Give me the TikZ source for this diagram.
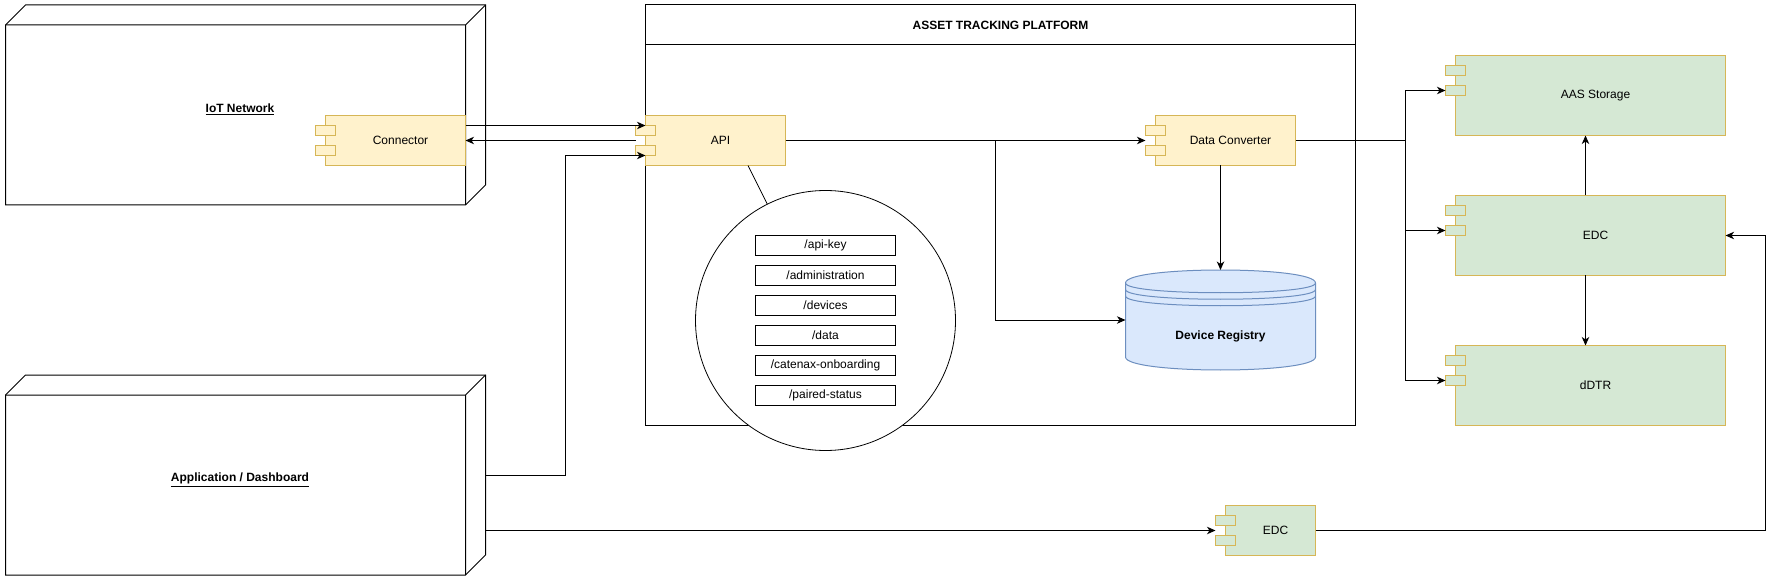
\documentclass[tikz,border=0pt]{standalone}
\usepackage{fontspec}
\setmainfont{Liberation Sans}
\usetikzlibrary{arrows.meta,calc}
\definecolor{yfill}{HTML}{FFF2CC}
\definecolor{ystroke}{HTML}{D6B656}
\definecolor{gfill}{HTML}{D5E8D4}
\definecolor{bfill}{HTML}{DAE8FC}
\definecolor{bstroke}{HTML}{6C8EBF}
\newcommand\compbox[7]{%
  \node[cbody, fill=#6, minimum width={#4*0.75pt}, minimum height={#5*0.75pt}, anchor=north west] (#1) at (#2,#3) {};
  \draw[cport, fill=#6] ($(#1.north west)+(-10,10)$) rectangle ++(20,10);
  \draw[cport, fill=#6] ($(#1.north west)+(-10,30)$) rectangle ++(20,10);
  \node[txt] (#1-lbl) at ($(#1.center)+(5,0)$) {#7};}
\newcommand\nodebox[5]{%
  \node[inner sep=0pt, outer sep=0pt, minimum width={#4*0.75pt}, minimum height={#5*0.75pt}, anchor=north west] (#1) at (#2,#3) {};
  \begin{scope}[shift={(#1.north west)}]
    \filldraw[plain, fill=white, draw=black] (0,20) -- (20,0) -- (#4,0) -- (#4,#5-20) -- (#4-20,#5) -- (0,#5) -- cycle;
    \draw[plain] (0,20) -- (#4-20,20) -- (#4,0) (#4-20,20) -- (#4-20,#5);
  \end{scope}}
\begin{document}
\begin{tikzpicture}[x=0.75pt, y=-0.75pt,
  txt/.style={inner sep=0pt, font=\fontsize{9}{11}\selectfont},
  btxt/.style={inner sep=0pt, font=\fontsize{9}{11}\selectfont\bfseries},
  plain/.style={line width=0.75pt},
  cbody/.style={rectangle, draw=ystroke, line width=0.75pt, inner sep=0pt, outer sep=0pt},
  cport/.style={draw=ystroke, line width=0.75pt},
  arr/.style={line width=0.75pt, -{Stealth[length=6.4pt, width=5.6pt, inset=1.9pt]}},
  epbox/.style={rectangle, draw, line width=0.75pt, fill=white, inner sep=0pt, outer sep=0pt,
    minimum width=105pt, minimum height=15pt, font=\fontsize{9}{11}\selectfont}]
\fill[white] (0,0) rectangle (1779,581);
\useasboundingbox (0,0) rectangle (1779,581);

% 3D nodes
\nodebox{iot}{5.5}{5}{480}{200}
\node[btxt] (iotlbl) at (240,109.5) {\underline{IoT Network}};
\nodebox{app}{5.5}{375}{480}{200}
\node[btxt] (applbl) at (240,480) {\underline{Application / Dashboard}};

% platform
\node[rectangle, draw, line width=0.75pt, inner sep=0pt, outer sep=0pt, minimum width=532.5pt, minimum height=315pt, anchor=north west] (plat) at (645.5,5) {};
\draw[plain] ($(plat.north west)+(0,40)$) -- ($(plat.north east)+(0,40)$);
\node[btxt] (title) at ($(plat.north)+(0,20)$) {ASSET TRACKING PLATFORM};

% components
\compbox{conn}{325.5}{115.5}{140}{50}{yfill}{Connector}
\compbox{api}{645.5}{115.5}{140}{50}{yfill}{API}
\compbox{dc}{1155.5}{115.5}{140}{50}{yfill}{Data Converter}
\compbox{aas}{1455.5}{55.5}{270}{80}{gfill}{AAS Storage}
\compbox{edc}{1455.5}{195.5}{270}{80}{gfill}{EDC}
\compbox{dtr}{1455.5}{345.5}{270}{80}{gfill}{dDTR}
\compbox{edcb}{1225.5}{505.5}{90}{50}{gfill}{EDC}

% device registry (datastore)
\node[inner sep=0pt, outer sep=0pt, minimum width=142.5pt, minimum height=75pt, anchor=north west] (reg) at (1125.5,270) {};
\begin{scope}[shift={(reg.north west)}, draw=bstroke, line width=0.75pt]
  \filldraw[fill=bfill, draw=bstroke] (0,13) .. controls (0,-4.333) and (190,-4.333) .. (190,13) -- (190,87) .. controls (190,104.333) and (0,104.333) .. (0,87) -- cycle;
  \draw[bstroke] (0,13) .. controls (0,26) and (190,26) .. (190,13);
  \draw[bstroke] (0,19.5) .. controls (0,32.5) and (190,32.5) .. (190,19.5);
  \draw[bstroke] (0,26) .. controls (0,39) and (190,39) .. (190,26);
\end{scope}
\node[btxt] (reglbl) at (1220.5,336.5) {Device Registry};

% API endpoints circle
\node[circle, draw, line width=0.6pt, fill=white, minimum size=195pt, inner sep=0pt, outer sep=0pt] (circ) at (825.5,320.5) {};
\draw[line width=0.6pt] ($(api.south west)+(102.5,0)$) -- (circ);
\node[epbox] (ep1) at (825.5,245.5) {/api-key};
\node[epbox] (ep2) at (825.5,275.5) {/administration};
\node[epbox] (ep3) at (825.5,305.5) {/devices};
\node[epbox] (ep4) at (825.5,335.5) {/data};
\node[epbox] (ep5) at (825.5,365.5) {/catenax-onboarding};
\node[epbox] (ep6) at (825.5,395.5) {/paired-status};

% connectors
\draw[arr] ($(conn.north east)+(0,10)$) -- ($(api.north west)+(0,10)$);
\draw[arr] ($(api.west)+(-10,0)$) -- (conn.east);
\draw[arr] (app.east) -- ++(80,0) |- ($(api.north west)+(0,40)$);
\draw[arr] (api.east) -- ($(dc.west)+(-10,0)$);
\coordinate (j1) at (995.5,140.5);
\draw[arr] (j1) |- (reg.west);
\draw[arr] (dc.south -| reg.north) -- (reg.north);
\coordinate (j2) at (1405.5,140.5);
\draw[plain] (dc.east) -- (j2);
\draw[arr] (j2) |- ($(aas.north west)+(-10,35)$);
\draw[arr] (j2) |- ($(edc.north west)+(-10,35)$);
\draw[arr] (j2) |- ($(dtr.north west)+(-10,35)$);
\draw[arr] ($(edc.north)+(-5,0)$) -- ($(aas.south)+(-5,0)$);
\draw[arr] ($(edc.south)+(-5,0)$) -- ($(dtr.north)+(-5,0)$);
\draw[arr] (app.east |- edcb.west) -- ($(edcb.west)+(-10,0)$);
\draw[arr] (edcb.east) -- ++(450,0) |- (edc.east);
\end{tikzpicture}
\end{document}
